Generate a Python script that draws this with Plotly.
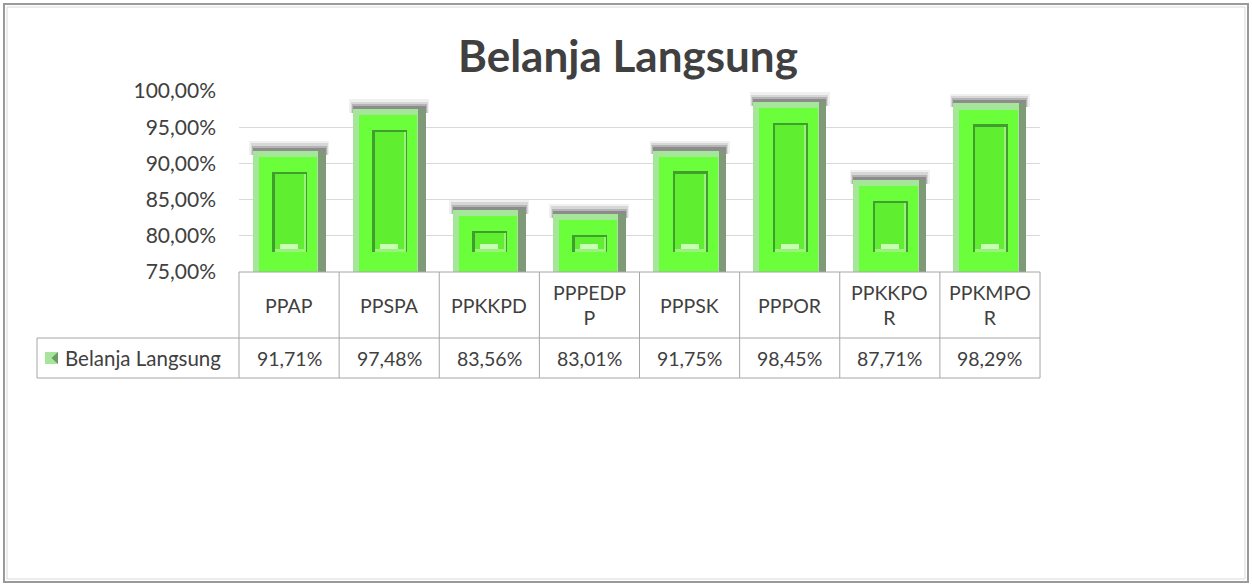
import plotly.graph_objects as go

categories = ["PPAP", "PPSPA", "PPKKPD", "PPPEDPP", "PPPSK", "PPPOR", "PPKKPOR", "PPKMPOR"]
header_labels = ["PPAP", "PPSPA", "PPKKPD", "PPPEDP<br>P", "PPPSK", "PPPOR", "PPKKPO<br>R", "PPKMPO<br>R"]
values = [91.71, 97.48, 83.56, 83.01, 91.75, 98.45, 87.71, 98.29]
series_name = "Belanja Langsung"
title_text = "Belanja Langsung"
y_ticks = [75, 80, 85, 90, 95, 100]


def fmt(v):
    return f"{v:.2f}".replace(".", ",") + "%"


BASE = 75
W, H = 1252, 586
L, R, T, B = 239, 212, 91, 314
PW, PH = W - L - R, H - T - B


def px_x(p):
    return (p - L) / PW


def px_y(p):
    return (H - B - p) / PH


FONT = "Lato"
TXT = "#404040"
GRID = "#A6A6A6"

fig = go.Figure()


def layer(top, bottom, width, offset, color):
    fig.add_trace(go.Bar(
        x=categories,
        y=[t - b for t, b in zip(top, bottom)],
        base=bottom,
        width=width,
        offset=offset,
        marker=dict(color=color, line=dict(width=0)),
        hoverinfo="skip",
        showlegend=False,
    ))


n = len(values)
# soft shadow above bar
layer([v + 1.35 for v in values], [v - 0.5 for v in values], 0.80, -0.40, "rgba(0,0,0,0.06)")
layer([v + 1.05 for v in values], [v - 0.5 for v in values], 0.77, -0.385, "rgba(0,0,0,0.10)")
layer([v + 0.75 for v in values], [v - 0.5 for v in values], 0.75, -0.375, "rgba(0,0,0,0.16)")
layer([v + 0.45 for v in values], [v - 0.5 for v in values], 0.73, -0.365, "rgba(0,0,0,0.22)")
# outer bevel (dark right side)
layer(values, [BASE] * n, 0.73, -0.365, "#7E9A76")
# light left / top bevel
layer(values, [BASE] * n, 0.655, -0.365, "#A6E69A")
# main face
layer([v - 0.85 for v in values], [BASE] * n, 0.585, -0.305, "#6BFF3B")
# inner recessed panel
layer([v - 2.85 for v in values], [77.7] * n, 0.35, -0.17, "#3F9E2D")
layer([v - 3.2 for v in values], [77.7] * n, 0.31, -0.145, "#9BF07E")
layer([v - 3.2 for v in values], [78.15] * n, 0.29, -0.145, "#5FEE30")
# sheen at bottom of inner panel
layer([78.9] * n, [78.15] * n, 0.18, -0.09, "#C9FFB5")

shapes = []
# table lines
top_y = px_y(272)
mid_y = px_y(338)
bot_y = px_y(378)
shapes.append(dict(type="line", xref="paper", yref="paper", x0=0, x1=1, y0=top_y, y1=top_y,
                   line=dict(color=GRID, width=1)))
shapes.append(dict(type="line", xref="paper", yref="paper", x0=px_x(37), x1=1, y0=mid_y, y1=mid_y,
                   line=dict(color=GRID, width=1)))
shapes.append(dict(type="line", xref="paper", yref="paper", x0=px_x(37), x1=1, y0=bot_y, y1=bot_y,
                   line=dict(color=GRID, width=1)))
shapes.append(dict(type="line", xref="paper", yref="paper", x0=px_x(37), x1=px_x(37), y0=mid_y, y1=bot_y,
                   line=dict(color=GRID, width=1)))
for k in range(n + 1):
    shapes.append(dict(type="line", xref="x domain", yref="paper", x0=k / n, x1=k / n, y0=top_y, y1=bot_y,
                       line=dict(color=GRID, width=1)))

# legend key icon
ix0, ix1 = px_x(45), px_x(58)
iy0, iy1 = px_y(364), px_y(352)
shapes.append(dict(type="rect", xref="paper", yref="paper", x0=ix0, x1=ix1, y0=iy0, y1=iy1,
                   fillcolor="#A6E69A", line=dict(width=0)))
shapes.append(dict(type="path", xref="paper", yref="paper",
                   path=f"M {ix1} {iy1} L {ix1} {iy0} L {(ix0 + ix1) / 2} {(iy0 + iy1) / 2} Z",
                   fillcolor="#6E9966", line=dict(width=0)))

# outer chart frame
shapes.append(dict(type="rect", xref="paper", yref="paper",
                   x0=px_x(4), x1=px_x(1248), y0=px_y(582), y1=px_y(4),
                   line=dict(color="#9A9A9A", width=2), fillcolor="rgba(0,0,0,0)"))
shapes.append(dict(type="rect", xref="paper", yref="paper",
                   x0=px_x(7), x1=px_x(1245), y0=px_y(579), y1=px_y(7),
                   line=dict(color="#DADADA", width=1), fillcolor="rgba(0,0,0,0)"))

annotations = []
for c, h, v in zip(categories, header_labels, values):
    annotations.append(dict(xref="x", yref="paper", x=c, y=px_y(305), text=h, showarrow=False,
                            font=dict(family=FONT, size=19.5, color=TXT), xanchor="center", yanchor="middle"))
    annotations.append(dict(xref="x", yref="paper", x=c, y=px_y(358), text=fmt(v), showarrow=False,
                            font=dict(family=FONT, size=19.5, color=TXT), xanchor="center", yanchor="middle"))
annotations.append(dict(xref="paper", yref="paper", x=px_x(63), y=px_y(358), text=series_name,
                        showarrow=False, font=dict(family=FONT, size=20.5, color=TXT),
                        xanchor="left", yanchor="middle"))
annotations.append(dict(xref="paper", yref="paper", x=px_x(628), y=px_y(55), text=f"<b>{title_text}</b>",
                        showarrow=False, font=dict(family=FONT, size=44, color=TXT),
                        xanchor="center", yanchor="middle"))

fig.update_layout(
    width=W, height=H,
    margin=dict(l=L, r=R, t=T, b=B, pad=0),
    paper_bgcolor="white", plot_bgcolor="white",
    barmode="overlay", bargap=0,
    showlegend=False,
    shapes=shapes,
    annotations=annotations,
    xaxis=dict(type="category", range=[-0.5, n - 0.5], showticklabels=False, showgrid=False,
               zeroline=False, showline=False, ticks="", fixedrange=True),
    yaxis=dict(range=[BASE, 100], tickvals=y_ticks, ticktext=[fmt(t) for t in y_ticks],
               showgrid=True, gridcolor="#D9D9D9", gridwidth=1, zeroline=False, showline=False,
               ticks="", ticklabelstandoff=22, tickfont=dict(family=FONT, size=21, color=TXT)),
)

fig.write_html("out.html", config={"displayModeBar": False},
               post_script="document.body.style.margin='0';document.body.style.overflow='hidden';")
